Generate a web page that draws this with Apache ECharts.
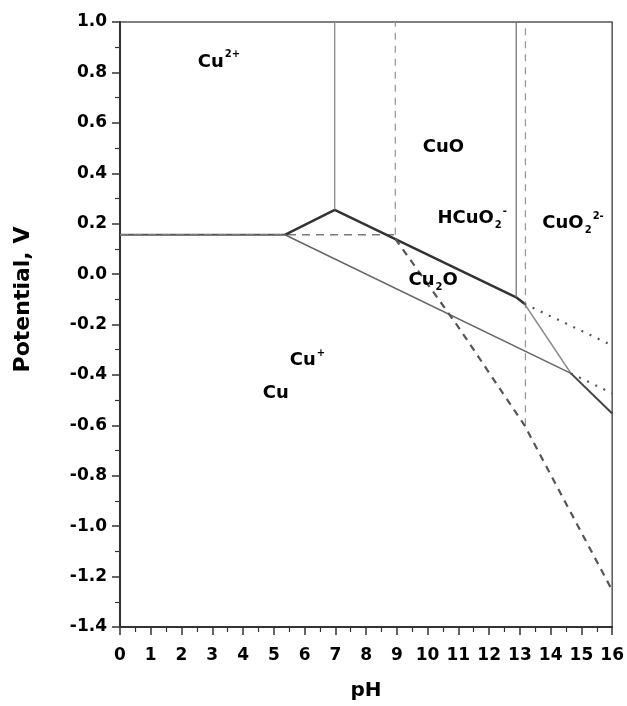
<!DOCTYPE html>
<html>
<head>
<meta charset="utf-8">
<script src="https://cdn.jsdelivr.net/npm/echarts@6/dist/echarts.min.js"></script>
<style>html,body{margin:0;padding:0;background:#fff;}#c{width:627px;height:706px;}</style>
</head>
<body>
<div id="c"></div>
<script>
// Axis ranges / ticks
const xTicks = [0,1,2,3,4,5,6,7,8,9,10,11,12,13,14,15,16];
const yTicks = [-1.4,-1.2,-1.0,-0.8,-0.6,-0.4,-0.2,0.0,0.2,0.4,0.6,0.8,1.0];

// Boundary lines [pH, E]
const cu2CuPlusSolid = [[0,0.156],[5.36,0.156]];
const cu2CuPlusDashed = [[0,0.156],[8.93,0.156]];
const cu2oCuoLine = [[5.36,0.156],[6.98,0.255],[12.88,-0.092],[13.15,-0.118]];
const cuo2Cu2oLine = [[13.15,-0.118],[14.66,-0.394]];
const cuCuo2Line = [[14.66,-0.394],[16,-0.553]];
const cuCu2oLine = [[5.36,0.156],[14.66,-0.394]];
const vertCu2Cuo = [[6.98,0.255],[6.98,1.0]];
const vertCuoHcuo2 = [[12.88,-0.092],[12.88,1.0]];
const vertDashed1 = [[8.95,0.156],[8.95,1.0]];
const vertDashed2 = [[13.18,-0.6],[13.18,1.0]];
const dottedUpper = [[13.15,-0.118],[16,-0.283]];
const dottedLower = [[14.66,-0.394],[16,-0.473]];
const steepDashed = [[8.95,0.14],[11,-0.21],[13.15,-0.6],[16,-1.255]];

// Region labels: [pH, E, rich text]
const regionLabels = [
  [2.53, 0.842, '{m|Cu}{sup|2+}'],
  [9.84, 0.504, '{m|CuO}'],
  [10.32, 0.222, '{m|HCuO}{sub|2}{sup|-}'],
  [13.73, 0.203, '{m|CuO}{sub|2}{sup|2-}'],
  [9.38, -0.026, '{m|Cu}{sub|2}{m|O}'],
  [5.52, -0.341, '{m|Cu}{sup|+}'],
  [4.64, -0.475, '{m|Cu}']
];

const FONT = 'DejaVu Sans';
function lineSeries(data, color, width, type) {
  return {
    type: 'line', data: data, symbol: 'none', silent: true, animation: false,
    lineStyle: { color: color, width: width, type: type || 'solid' }, z: 3
  };
}

const chart = echarts.init(document.getElementById('c'), null, {renderer: 'canvas'});
chart.setOption({
  backgroundColor: '#fff',
  animation: false,
  grid: { left: 120, right: 14, top: 22, bottom: 79, show: true, borderColor: '#555', borderWidth: 1.5, backgroundColor: 'transparent' },
  xAxis: {
    type: 'value', min: xTicks[0], max: xTicks[xTicks.length-1], interval: 1,
    name: 'pH', nameLocation: 'middle', nameGap: 54,
    nameTextStyle: { fontFamily: FONT, fontWeight: 'bold', fontSize: 20, color: '#000' },
    axisLine: { show: true, onZero: false, lineStyle: { color: '#333', width: 2 } },
    axisTick: { show: true, length: 8, lineStyle: { color: '#333', width: 1.5 } },
    minorTick: { show: true, splitNumber: 2, length: 5, lineStyle: { color: '#333', width: 1.2 } },
    splitLine: { show: false },
    axisLabel: { fontFamily: FONT, fontWeight: 'bold', fontSize: 17, color: '#000', margin: 20 }
  },
  yAxis: {
    type: 'value', min: yTicks[0], max: yTicks[yTicks.length-1], interval: 0.2,
    name: 'Potential, V', nameLocation: 'middle', nameGap: 86, nameRotate: 90,
    nameTextStyle: { fontFamily: FONT, fontWeight: 'bold', fontSize: 22, color: '#000', padding: [0, 0, 0, 50] },
    axisLine: { show: true, onZero: false, lineStyle: { color: '#333', width: 2 } },
    axisTick: { show: true, length: 8, lineStyle: { color: '#333', width: 1.5 } },
    minorTick: { show: true, splitNumber: 2, length: 5, lineStyle: { color: '#333', width: 1.2 } },
    splitLine: { show: false },
    axisLabel: { fontFamily: FONT, fontWeight: 'bold', fontSize: 17, color: '#000', margin: 13,
      formatter: function (v) { return v.toFixed(1); } }
  },
  series: [
    lineSeries(cu2CuPlusSolid, '#555', 2.2),
    lineSeries(cu2CuPlusDashed, '#7a7a7a', 1.6, [8, 6]),
    lineSeries(cu2oCuoLine, '#333', 2.5),
    lineSeries(cuo2Cu2oLine, '#8a8a8a', 1.6),
    lineSeries(cuCuo2Line, '#444', 2),
    lineSeries(cuCu2oLine, '#666', 1.6),
    lineSeries(vertCu2Cuo, '#888', 1.3),
    lineSeries(vertCuoHcuo2, '#777', 1.3),
    lineSeries(vertDashed1, '#999', 1.3, [7, 6]),
    lineSeries(vertDashed2, '#999', 1.3, [7, 6]),
    lineSeries(dottedUpper, '#555', 2.2, [2, 7]),
    lineSeries(dottedLower, '#555', 2.2, [2, 7]),
    lineSeries(steepDashed, '#555', 2.2, [7, 6]),
    {
      type: 'scatter', silent: true, animation: false, symbolSize: 0, z: 5,
      itemStyle: { opacity: 1, color: '#000' },
      data: regionLabels.map(function (r) { return { value: [r[0], r[1]], txt: r[2] }; }),
      label: {
        show: true, position: 'right', distance: 0, color: '#000', opacity: 1,
        formatter: function (p) { return p.data.txt; },
        rich: {
          m: { fontFamily: FONT, fontWeight: 'bold', fontSize: 18, color: '#000', lineHeight: 24 },
          sup: { fontFamily: FONT, fontWeight: 'bold', fontSize: 10, color: '#000', verticalAlign: 'top', lineHeight: 12, padding: [0, 0, 0, 1] },
          sub: { fontFamily: FONT, fontWeight: 'bold', fontSize: 10, color: '#000', verticalAlign: 'bottom', lineHeight: 12, padding: [0, 0, 0, 1] }
        }
      }
    }
  ]
});
</script>
</body>
</html>
